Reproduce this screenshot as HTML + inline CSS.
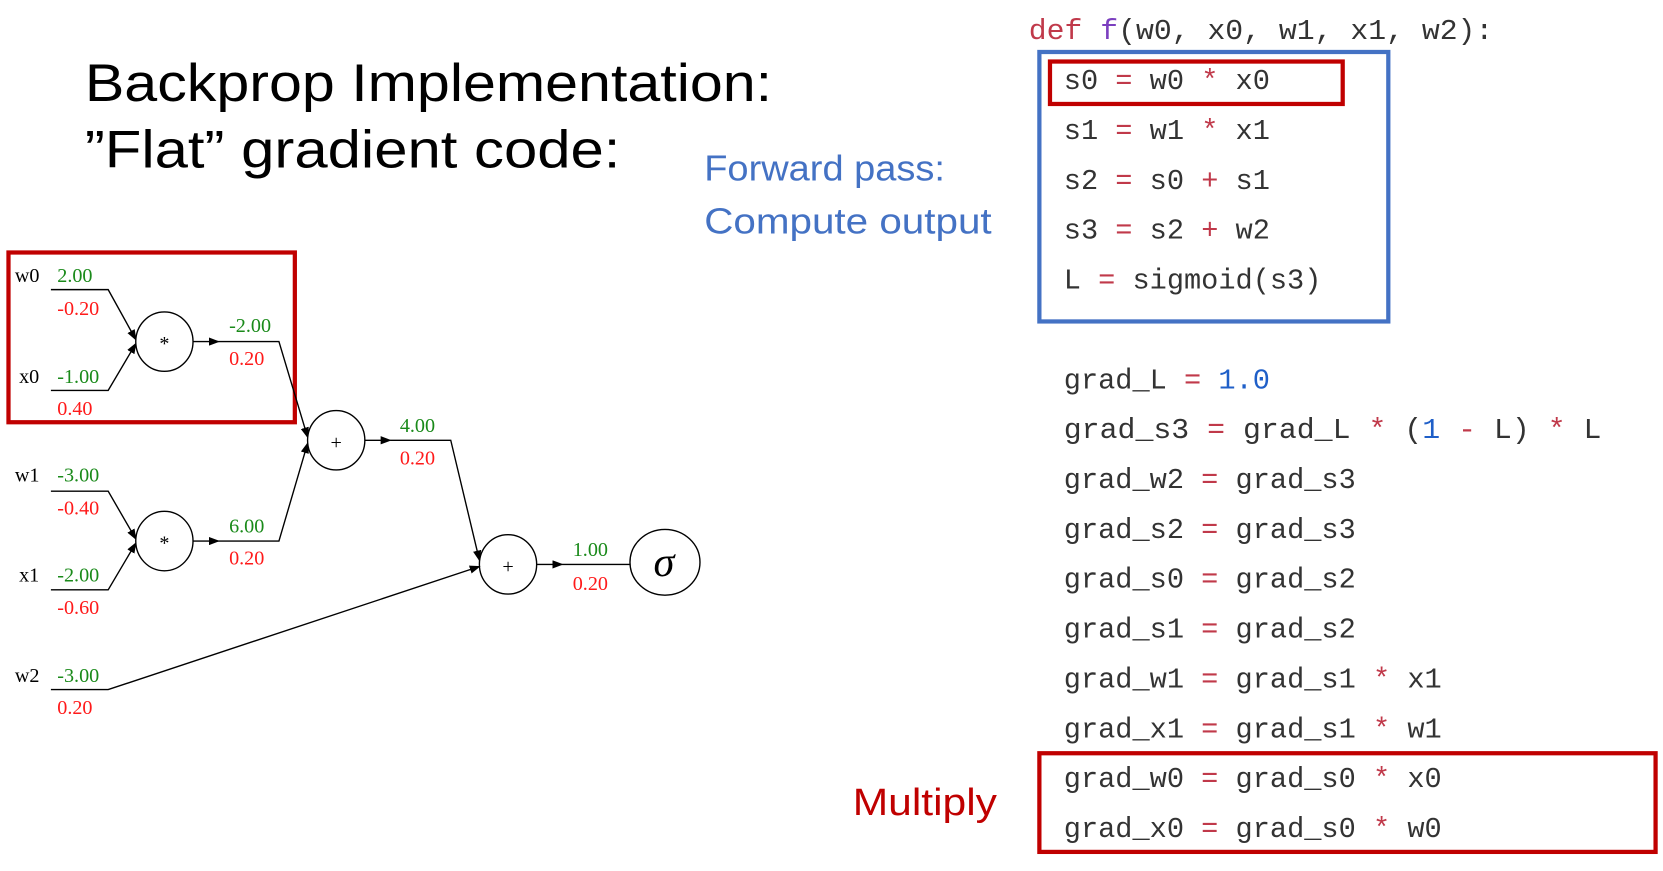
<!DOCTYPE html>
<html><head><meta charset="utf-8"><style>
html,body{margin:0;padding:0;background:#fff;}
svg{display:block;}
.t{font-family:"Liberation Sans",sans-serif;}
.m{font-family:"Liberation Mono",monospace;font-size:27px;fill:#333;}
.r{fill:#c0394a;}
.n{font-family:"Liberation Serif",serif;font-size:19px;}
.g{fill:#1a8a1a;}
.rd{fill:#ff1a1a;}
</style></head><body>
<svg width="1663" height="871" viewBox="0 0 1568 821" preserveAspectRatio="none" xmlns="http://www.w3.org/2000/svg">
<defs><marker id="a" markerWidth="8" markerHeight="6" refX="7" refY="3" orient="auto"><path d="M0,0 L8,3 L0,6 z" fill="#000"/></marker></defs>
<text class="t" x="80" y="95" font-size="50" textLength="648" lengthAdjust="spacingAndGlyphs">Backprop Implementation:</text>
<text class="t" x="80" y="158" font-size="50" textLength="505" lengthAdjust="spacingAndGlyphs">”Flat” gradient code:</text>
<text class="t" x="664" y="170" font-size="34" fill="#4472c4" textLength="227" lengthAdjust="spacingAndGlyphs">Forward pass:</text>
<text class="t" x="664" y="220" font-size="34" fill="#4472c4" textLength="271" lengthAdjust="spacingAndGlyphs">Compute output</text>
<text class="t" x="804" y="768" font-size="36" fill="#c00000" textLength="136" lengthAdjust="spacingAndGlyphs">Multiply</text>

<text class="m" x="970" y="37" textLength="438" lengthAdjust="spacingAndGlyphs"><tspan fill="#c0394a">def</tspan> <tspan fill="#7b3fbf">f</tspan>(w0, x0, w1, x1, w2):</text>
<rect x="980" y="49" width="329" height="254" fill="none" stroke="#4472c4" stroke-width="4"/>
<rect x="990" y="58" width="276" height="40" fill="none" stroke="#c00000" stroke-width="4"/>
<g class="m">
<text x="1003" y="84">s0 <tspan class="r">=</tspan> w0 <tspan class="r">*</tspan> x0</text>
<text x="1003" y="131">s1 <tspan class="r">=</tspan> w1 <tspan class="r">*</tspan> x1</text>
<text x="1003" y="178">s2 <tspan class="r">=</tspan> s0 <tspan class="r">+</tspan> s1</text>
<text x="1003" y="225">s3 <tspan class="r">=</tspan> s2 <tspan class="r">+</tspan> w2</text>
<text x="1003" y="272">L <tspan class="r">=</tspan> sigmoid(s3)</text>
<text x="1003" y="366">grad_L <tspan class="r">=</tspan> <tspan fill="#1f5fc8">1.0</tspan></text>
<text x="1003" y="413" textLength="507" lengthAdjust="spacingAndGlyphs">grad_s3 <tspan class="r">=</tspan> grad_L <tspan class="r">*</tspan> (<tspan fill="#1f5fc8">1</tspan> <tspan class="r">-</tspan> L) <tspan class="r">*</tspan> L</text>
<text x="1003" y="460">grad_w2 <tspan class="r">=</tspan> grad_s3</text>
<text x="1003" y="507">grad_s2 <tspan class="r">=</tspan> grad_s3</text>
<text x="1003" y="554">grad_s0 <tspan class="r">=</tspan> grad_s2</text>
<text x="1003" y="601">grad_s1 <tspan class="r">=</tspan> grad_s2</text>
<text x="1003" y="648">grad_w1 <tspan class="r">=</tspan> grad_s1 <tspan class="r">*</tspan> x1</text>
<text x="1003" y="695">grad_x1 <tspan class="r">=</tspan> grad_s1 <tspan class="r">*</tspan> w1</text>
<text x="1003" y="742">grad_w0 <tspan class="r">=</tspan> grad_s0 <tspan class="r">*</tspan> x0</text>
<text x="1003" y="789">grad_x0 <tspan class="r">=</tspan> grad_s0 <tspan class="r">*</tspan> w0</text>
</g>
<rect x="980" y="710" width="581" height="93" fill="none" stroke="#c00000" stroke-width="4"/>

<!-- diagram -->
<rect x="8" y="238" width="270" height="160" fill="none" stroke="#c00000" stroke-width="4"/>
<g stroke="#000" stroke-width="1.3" fill="none">
<polyline points="48,273 102,273 128,320" marker-end="url(#a)"/>
<polyline points="48,368 102,368 128,324" marker-end="url(#a)"/>
<polyline points="48,463 102,463 128,508" marker-end="url(#a)"/>
<polyline points="48,556 102,556 128,512" marker-end="url(#a)"/>
<polyline points="48,650 102,650 452,534" marker-end="url(#a)"/>
<line x1="182" y1="322" x2="206" y2="322" marker-end="url(#a)"/>
<polyline points="206,322 263,322 290,412" marker-end="url(#a)"/>
<line x1="182" y1="510" x2="206" y2="510" marker-end="url(#a)"/>
<polyline points="206,510 263,510 290,418" marker-end="url(#a)"/>
<line x1="344" y1="415" x2="368" y2="415" marker-end="url(#a)"/>
<polyline points="368,415 425,415 452,528" marker-end="url(#a)"/>
<line x1="506" y1="532" x2="530" y2="532" marker-end="url(#a)"/>
<line x1="530" y1="532" x2="594" y2="532"/>
<ellipse cx="155" cy="322" rx="27" ry="28"/>
<ellipse cx="155" cy="510" rx="27" ry="28"/>
<ellipse cx="317" cy="415" rx="27" ry="28"/>
<ellipse cx="479" cy="532" rx="27" ry="28"/>
<ellipse cx="627" cy="530" rx="33" ry="31"/>
</g>
<g class="n" text-anchor="middle" font-size="22">
<text x="155" y="330">*</text><text x="155" y="518">*</text>
<text x="317" y="423">+</text><text x="479" y="540">+</text>
<text x="626" y="543" font-size="40" font-style="italic">σ</text>
</g>
<g class="n">
<text x="14" y="266">w0</text><text class="g" x="54" y="266">2.00</text><text class="rd" x="54" y="297">-0.20</text>
<text x="18" y="361">x0</text><text class="g" x="54" y="361">-1.00</text><text class="rd" x="54" y="391">0.40</text>
<text x="14" y="454">w1</text><text class="g" x="54" y="454">-3.00</text><text class="rd" x="54" y="485">-0.40</text>
<text x="18" y="548">x1</text><text class="g" x="54" y="548">-2.00</text><text class="rd" x="54" y="579">-0.60</text>
<text x="14" y="643">w2</text><text class="g" x="54" y="643">-3.00</text><text class="rd" x="54" y="673">0.20</text>
<text class="g" x="216" y="313">-2.00</text><text class="rd" x="216" y="344">0.20</text>
<text class="g" x="216" y="502">6.00</text><text class="rd" x="216" y="532">0.20</text>
<text class="g" x="377" y="407">4.00</text><text class="rd" x="377" y="438">0.20</text>
<text class="g" x="540" y="524">1.00</text><text class="rd" x="540" y="556">0.20</text>
</g>
</svg>
</body></html>
